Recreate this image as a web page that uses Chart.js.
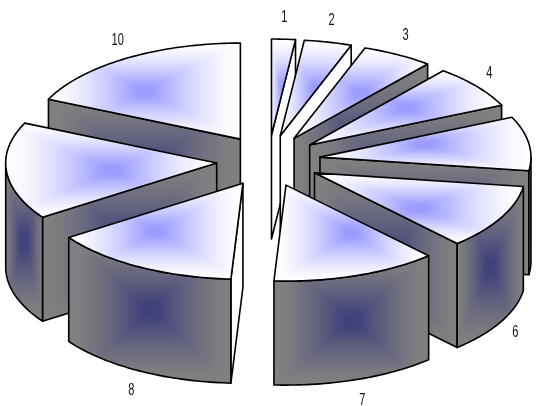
<!DOCTYPE html>
<html>
<head>
<meta charset="utf-8">
<style>
  html, body { margin: 0; padding: 0; background: #fff; overflow: hidden; }
  canvas { display: block; }
</style>
<script src="https://cdn.jsdelivr.net/npm/chart.js@4"></script>
</head>
<body>
<canvas id="myChart" width="537" height="406"></canvas>
<script>
// DATOS
const categorias = ['1', '2', '3', '4', '5', '6', '7', '8', '9', '10']
const valores = [1, 2, 3, 4, 5, 6, 7, 8, 9, 10]

// ESTILO 3D
const radio = 211
const tiltBorde = 96 / 211
const tiltOffset = 25.8 / 52
const separacion = 52
const alto = 104
const topeCentro = [155, 155, 255]
const topeBorde = [255, 255, 255]
const ladoCentro = [64, 64, 125]
const ladoBorde = [130, 130, 130]

// degradado rectangular sobre la caja de los puntos, recortado a la cara
const degradado = (ctx, puntos, borde, centro) => {
    const xs = puntos.map(p => p[0])
    const ys = puntos.map(p => p[1])
    const x0 = Math.min(...xs), x1 = Math.max(...xs)
    const y0 = Math.min(...ys), y1 = Math.max(...ys)
    ctx.fillStyle = `rgb(${borde[0]},${borde[1]},${borde[2]})`
    ctx.fillRect(x0 - 2, y0 - 2, x1 - x0 + 4, y1 - y0 + 4)
    ctx.filter = 'blur(2px)'
    const pasos = 40
    for (let k = 0; k <= pasos; k++) {
        const t = k / pasos
        const mezcla = Math.pow(Math.min(1, t * 1.08), 1.5)
        const c = borde.map((v, i) => Math.round(v + (centro[i] - v) * mezcla))
        ctx.fillStyle = `rgb(${c[0]},${c[1]},${c[2]})`
        const w = (x1 - x0) * (1 - t), h = (y1 - y0) * (1 - t)
        ctx.fillRect((x0 + x1 - w) / 2, (y0 + y1 - h) / 2, w, h)
    }
    ctx.filter = 'none'
}

const trazar = (ctx, puntos) => {
    ctx.beginPath()
    puntos.forEach((p, i) => i ? ctx.lineTo(p[0], p[1]) : ctx.moveTo(p[0], p[1]))
    ctx.closePath()
}

const cara = (ctx, puntos, borde, centro) => {
    ctx.save()
    trazar(ctx, puntos)
    ctx.clip()
    degradado(ctx, puntos, borde, centro)
    ctx.restore()
    trazar(ctx, puntos)
    ctx.stroke()
}

// geometria de cada porcion a partir del arco de Chart.js
const geometria = (arc) => {
    const { x, y, startAngle, endAngle } = arc.getProps(['x', 'y', 'startAngle', 'endAngle'])
    const medio = (startAngle + endAngle) / 2
    const ax = x + Math.cos(medio) * arc.options.offset
    const ay = y + Math.sin(medio) * arc.options.offset * tiltOffset
    const borde = (t) => [ax + Math.cos(t) * radio, ay + Math.sin(t) * radio * tiltBorde]
    return { ax, ay, startAngle, endAngle, medio, borde }
}

const muestras = (g, a, b) => {
    const n = Math.max(2, Math.ceil((b - a) / 0.02))
    const pts = []
    for (let i = 0; i <= n; i++) { pts.push(g.borde(a + (b - a) * i / n)) }
    return pts
}

const caraRadial = (ctx, g, t) => {
    const p = g.borde(t)
    const puntos = [[g.ax, g.ay], p, [p[0], p[1] + alto], [g.ax, g.ay + alto]]
    // casi de canto respecto al eje vertical: sale en blanco
    if (Math.abs(Math.cos(t)) < 0.4) {
        cara(ctx, puntos, [255, 255, 255], [255, 255, 255])
    } else {
        cara(ctx, puntos, ladoBorde, ladoCentro)
    }
}

const dibujarPorcion = (ctx, g) => {
    // caras radiales visibles
    if (Math.cos(g.endAngle) > 0) { caraRadial(ctx, g, g.endAngle) }
    if (Math.cos(g.startAngle) < 0) { caraRadial(ctx, g, g.startAngle) }

    // pared exterior, solo la mitad delantera
    const a = Math.max(g.startAngle, 0)
    const b = Math.min(g.endAngle, Math.PI)
    if (b > a) {
        const arriba = muestras(g, a, b)
        const abajo = arriba.map(p => [p[0], p[1] + alto]).reverse()
        cara(ctx, arriba.concat(abajo), ladoBorde, ladoCentro)
    }

    // tapa
    const tapa = [[g.ax, g.ay]].concat(muestras(g, g.startAngle, g.endAngle))
    cara(ctx, tapa, topeBorde, topeCentro)
}

const pie3d = {
    id: 'pie3d',
    beforeDatasetDraw(chart) {
        const ctx = chart.ctx
        const arcos = chart.getDatasetMeta(0).data.map(geometria)
        ctx.save()
        ctx.strokeStyle = '#000'
        ctx.lineWidth = 1.6
        ctx.lineJoin = 'round'
        arcos.slice().sort((a, b) => a.ay - b.ay).forEach(g => dibujarPorcion(ctx, g))

        // etiquetas, las que caen fuera del lienzo quedan recortadas
        ctx.fillStyle = '#111'
        ctx.font = '17px "Liberation Sans"'
        ctx.textAlign = 'center'
        ctx.textBaseline = 'middle'
        arcos.forEach((g, i) => {
            const p = g.borde(g.medio)
            const lx = p[0] + Math.cos(g.medio) * 16
            const ly = p[1] + Math.sin(g.medio) * 22 + (Math.sin(g.medio) > 0 ? alto : 0)
            ctx.save()
            ctx.translate(lx, ly)
            ctx.scale(0.65, 1)
            ctx.fillText(chart.data.labels[i], 0, 0)
            ctx.restore()
        })
        ctx.restore()
        return false
    }
}

new Chart(document.getElementById('myChart'), {
    type: 'pie',
    data: {
        labels: categorias,
        datasets: [{
            data: valores,
            offset: separacion,
            radius: radio
        }]
    },
    options: {
        responsive: false,
        animation: false,
        layout: { padding: { bottom: 84.4 } },
        plugins: {
            legend: { display: false },
            tooltip: { enabled: false }
        }
    },
    plugins: [pie3d]
})
</script>
</body>
</html>
